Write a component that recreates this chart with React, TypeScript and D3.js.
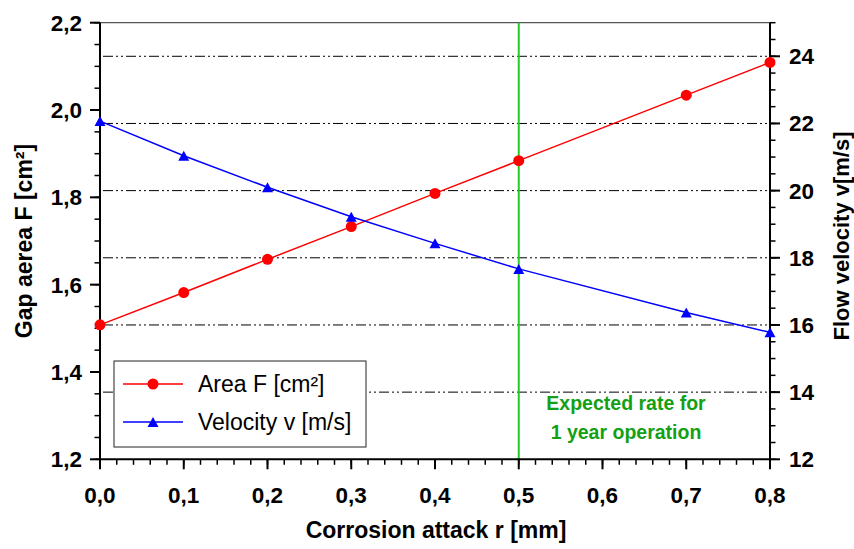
import React from "react";
import * as d3 from "d3";

const corrosion = [0, 0.1, 0.2, 0.3, 0.4, 0.5, 0.7, 0.8];
const areaF = [1.508, 1.582, 1.658, 1.733, 1.809, 1.884, 2.034, 2.109];
const velocity = [22.07, 21.04, 20.1, 19.22, 18.43, 17.67, 16.37, 15.78];
const xTicks = [0, 0.1, 0.2, 0.3, 0.4, 0.5, 0.6, 0.7, 0.8];
const leftTicks = [1.2, 1.4, 1.6, 1.8, 2.0, 2.2];
const rightTicks = [12, 14, 16, 18, 20, 22, 24];
const gridValues = [14, 16, 18, 20, 22, 24];
const markerX = 0.5;
const legendLabels = ["Area F [cm²]", "Velocity v [m/s]"];
const noteLines = ["Expected rate for", "1 year operation"];

const L = 100, R = 770, T = 22.7, B = 459.3;
const FONT = "Arial, 'Liberation Sans', Helvetica, sans-serif";

export default function App() {
  const x = d3.scaleLinear().domain([0, 0.8]).range([L, R]);
  const yL = d3.scaleLinear().domain([1.2, 2.2]).range([B, T]);
  const yR = d3.scaleLinear().domain([12, 25]).range([B, T]);
  const fmt = (v: number, d: number) => v.toFixed(d).replace(".", ",");

  const lineA = d3.line<number>().x((_, i) => x(corrosion[i])).y((d) => yL(d));
  const lineV = d3.line<number>().x((_, i) => x(corrosion[i])).y((d) => yR(d));

  const xMinor = d3.range(0, 0.8001, 0.02);
  const lMinor = d3.range(1.2, 2.2001, 0.05);
  const rMinor = d3.range(12, 25.001, 0.5);

  const tri = (cx: number, cy: number) => {
    const w = 11, h = 10;
    return `M${cx},${cy - h / 2}L${cx + w / 2},${cy + h / 2}L${cx - w / 2},${cy + h / 2}Z`;
  };

  return (
    <svg width={854} height={549} style={{ position: "absolute", left: 0, top: 0, background: "#fff" }} fontFamily={FONT}>
      <rect x={0} y={0} width={854} height={549} fill="#fff" />
      {/* gridlines */}
      {gridValues.map((g) => (
        <line key={g} x1={L + 3} x2={R} y1={yR(g)} y2={yR(g)} stroke="#000" strokeWidth={1} strokeDasharray="10 3 2 3 2 3" />
      ))}
      {/* top frame */}
      <line x1={L} x2={R} y1={T} y2={T} stroke="#555" strokeWidth={1.2} />
      {/* legend box */}
      <rect x={114} y={361} width={252} height={86} fill="#fff" stroke="#222" strokeWidth={1} />
      {/* green marker line */}
      <line x1={x(markerX)} x2={x(markerX)} y1={T} y2={B} stroke="#22cc22" strokeWidth={2} />
      {noteLines.map((t, i) => (
        <text key={t} x={626} y={410 + i * 29} textAnchor="middle" fill="#14a014" fontWeight="bold" fontSize={19.5}>{t}</text>
      ))}
      {/* axes */}
      <line x1={L} x2={L} y1={T} y2={B} stroke="#000" strokeWidth={2} />
      <line x1={R} x2={R} y1={T} y2={B} stroke="#000" strokeWidth={2} />
      <line x1={L} x2={R} y1={B} y2={B} stroke="#000" strokeWidth={2} />
      {xMinor.map((v, i) => (
        <line key={"xm" + i} x1={x(v)} x2={x(v)} y1={B} y2={B + 5.5} stroke="#000" strokeWidth={1.5} />
      ))}
      {xTicks.map((v) => (
        <g key={"xt" + v}>
          <line x1={x(v)} x2={x(v)} y1={B} y2={B + 10} stroke="#000" strokeWidth={2} />
          <text x={x(v)} y={503} textAnchor="middle" fontWeight="bold" fontSize={22.5}>{fmt(v, 1)}</text>
        </g>
      ))}
      {lMinor.map((v, i) => (
        <line key={"lm" + i} x1={L - 5.5} x2={L} y1={yL(v)} y2={yL(v)} stroke="#000" strokeWidth={1.5} />
      ))}
      {leftTicks.map((v) => (
        <g key={"lt" + v}>
          <line x1={L - 10} x2={L} y1={yL(v)} y2={yL(v)} stroke="#000" strokeWidth={2} />
          <text x={82} y={yL(v) + 8} textAnchor="end" fontWeight="bold" fontSize={22.5}>{fmt(v, 1)}</text>
        </g>
      ))}
      {rMinor.map((v, i) => (
        <line key={"rm" + i} x1={R} x2={R + 5.5} y1={yR(v)} y2={yR(v)} stroke="#000" strokeWidth={1.5} />
      ))}
      {rightTicks.map((v) => (
        <g key={"rt" + v}>
          <line x1={R} x2={R + 10} y1={yR(v)} y2={yR(v)} stroke="#000" strokeWidth={2} />
          <text x={789} y={yR(v) + 8} textAnchor="start" fontWeight="bold" fontSize={22.5}>{v}</text>
        </g>
      ))}
      {/* axis titles */}
      <text x={436} y={538} textAnchor="middle" fontWeight="bold" fontSize={23}>Corrosion attack r [mm]</text>
      <text transform="translate(32,241) rotate(-90)" textAnchor="middle" fontWeight="bold" fontSize={23}>Gap aerea F [cm²]</text>
      <text transform="translate(849,236) rotate(-90)" textAnchor="middle" fontWeight="bold" fontSize={22}>Flow velocity v[m/s]</text>
      {/* data */}
      <path d={lineA(areaF) || ""} fill="none" stroke="#ff0000" strokeWidth={1.5} />
      <path d={lineV(velocity) || ""} fill="none" stroke="#0000ff" strokeWidth={1.5} />
      {areaF.map((v, i) => (
        <circle key={"a" + i} cx={x(corrosion[i])} cy={yL(v)} r={5.5} fill="#ff0000" />
      ))}
      {velocity.map((v, i) => (
        <path key={"v" + i} d={tri(x(corrosion[i]), yR(v))} fill="#0000ff" />
      ))}
      {/* legend */}
      <line x1={123} x2={183} y1={384} y2={384} stroke="#ff0000" strokeWidth={1.5} />
      <circle cx={153} cy={384} r={5.5} fill="#ff0000" />
      <line x1={123} x2={183} y1={422} y2={422} stroke="#0000ff" strokeWidth={1.5} />
      <path d={tri(153, 422)} fill="#0000ff" />
      {legendLabels.map((t, i) => (
        <text key={t} x={198} y={392 + i * 38} fontSize={23}>{t}</text>
      ))}
    </svg>
  );
}
